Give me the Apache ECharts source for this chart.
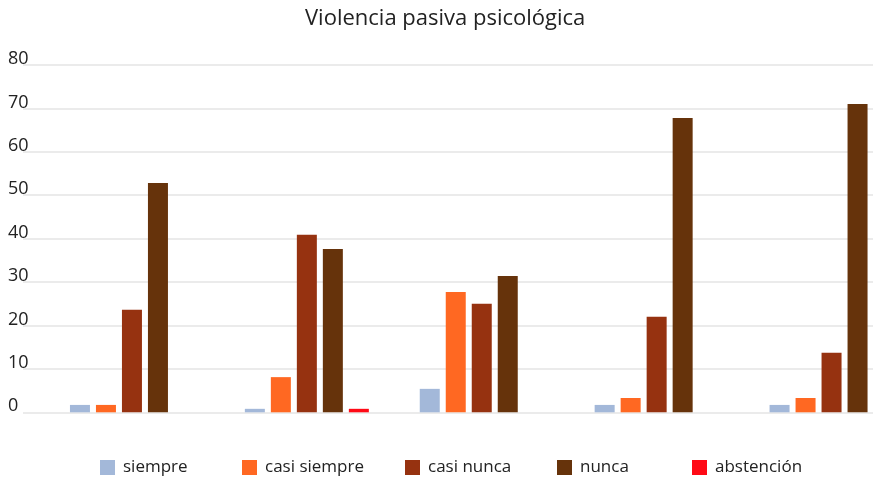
<!DOCTYPE html>
<html><head><meta charset="utf-8">
<script src="https://cdn.jsdelivr.net/npm/echarts@6/dist/echarts.min.js"></script>
<style>html,body{margin:0;padding:0;background:#fff}#c{width:873px;height:479px}</style>
</head><body><div id="c"></div>
<script>
const categories = ["1", "2", "3", "4", "5"];
const siempre = [1.7, 0.8, 5.4, 1.7, 1.7];
const casiSiempre = [1.7, 8.1, 27.7, 3.3, 3.3];
const casiNunca = [23.6, 40.9, 25.0, 22.0, 13.7];
const nunca = [52.8, 37.6, 31.4, 67.8, 71.0];
const abstencion = [null, 0.8, null, null, null];
const seriesNames = ["siempre", "casi siempre", "casi nunca", "nunca", "abstención"];
const yTicks = [0, 10, 20, 30, 40, 50, 60, 70, 80];

const colors = ["#a3b8d9", "#ff6822", "#963210", "#66330b", "#ff0a16"];
const FONT = "Open Sans";
const values = [siempre, casiSiempre, casiNunca, nunca, abstencion];
const legendLeft = [100, 242, 405, 557, 692];

const chart = echarts.init(document.getElementById('c'), null, {renderer: 'canvas'});
const option = {
  animation: false,
  color: colors,
  title: {
    text: "Violencia pasiva psicológica",
    left: 300, top: 3,
    textStyle: {fontFamily: FONT, fontSize: 22, fontWeight: 'normal', color: '#222'}
  },
  legend: seriesNames.map((n, i) => ({
    data: [n], left: legendLeft[i], top: 459, padding: 0,
    itemWidth: 15, itemHeight: 15, itemGap: 0,
    icon: 'rect',
    textStyle: {fontFamily: FONT, fontSize: 17, color: '#222', padding: [0, 0, 0, 3]}
  })),
  grid: [
    {left: 23, right: 0, top: 65, bottom: 66.7, containLabel: false, outerBoundsMode: 'none'},
    {left: 44.5, width: 874.5, top: 65, bottom: 66.7, containLabel: false, outerBoundsMode: 'none'}
  ],
  xAxis: [
    {gridIndex: 0, type: 'category', data: categories, show: false},
    {gridIndex: 1, type: 'category', data: categories, show: false}
  ],
  yAxis: [
    {
      gridIndex: 0, type: 'value', min: yTicks[0], max: yTicks[yTicks.length - 1], interval: 10,
      axisLine: {show: false}, axisTick: {show: false},
      axisLabel: {fontFamily: FONT, fontSize: 18, color: '#222', align: 'left', margin: 15,
                  verticalAlign: 'bottom', lineHeight: 18, padding: [0, 0, -3, 0]},
      splitLine: {lineStyle: {color: '#e4e4e4', width: 1.6}}
    },
    {
      gridIndex: 1, type: 'value', min: yTicks[0], max: yTicks[yTicks.length - 1], interval: 10,
      show: false, splitLine: {show: false}
    }
  ],
  series: seriesNames.map((n, i) => ({
    name: n, type: 'bar', xAxisIndex: 1, yAxisIndex: 1,
    data: values[i], barWidth: 20, barGap: '30%',
    itemStyle: {color: colors[i]}
  }))
};
chart.setOption(option);
</script></body></html>
